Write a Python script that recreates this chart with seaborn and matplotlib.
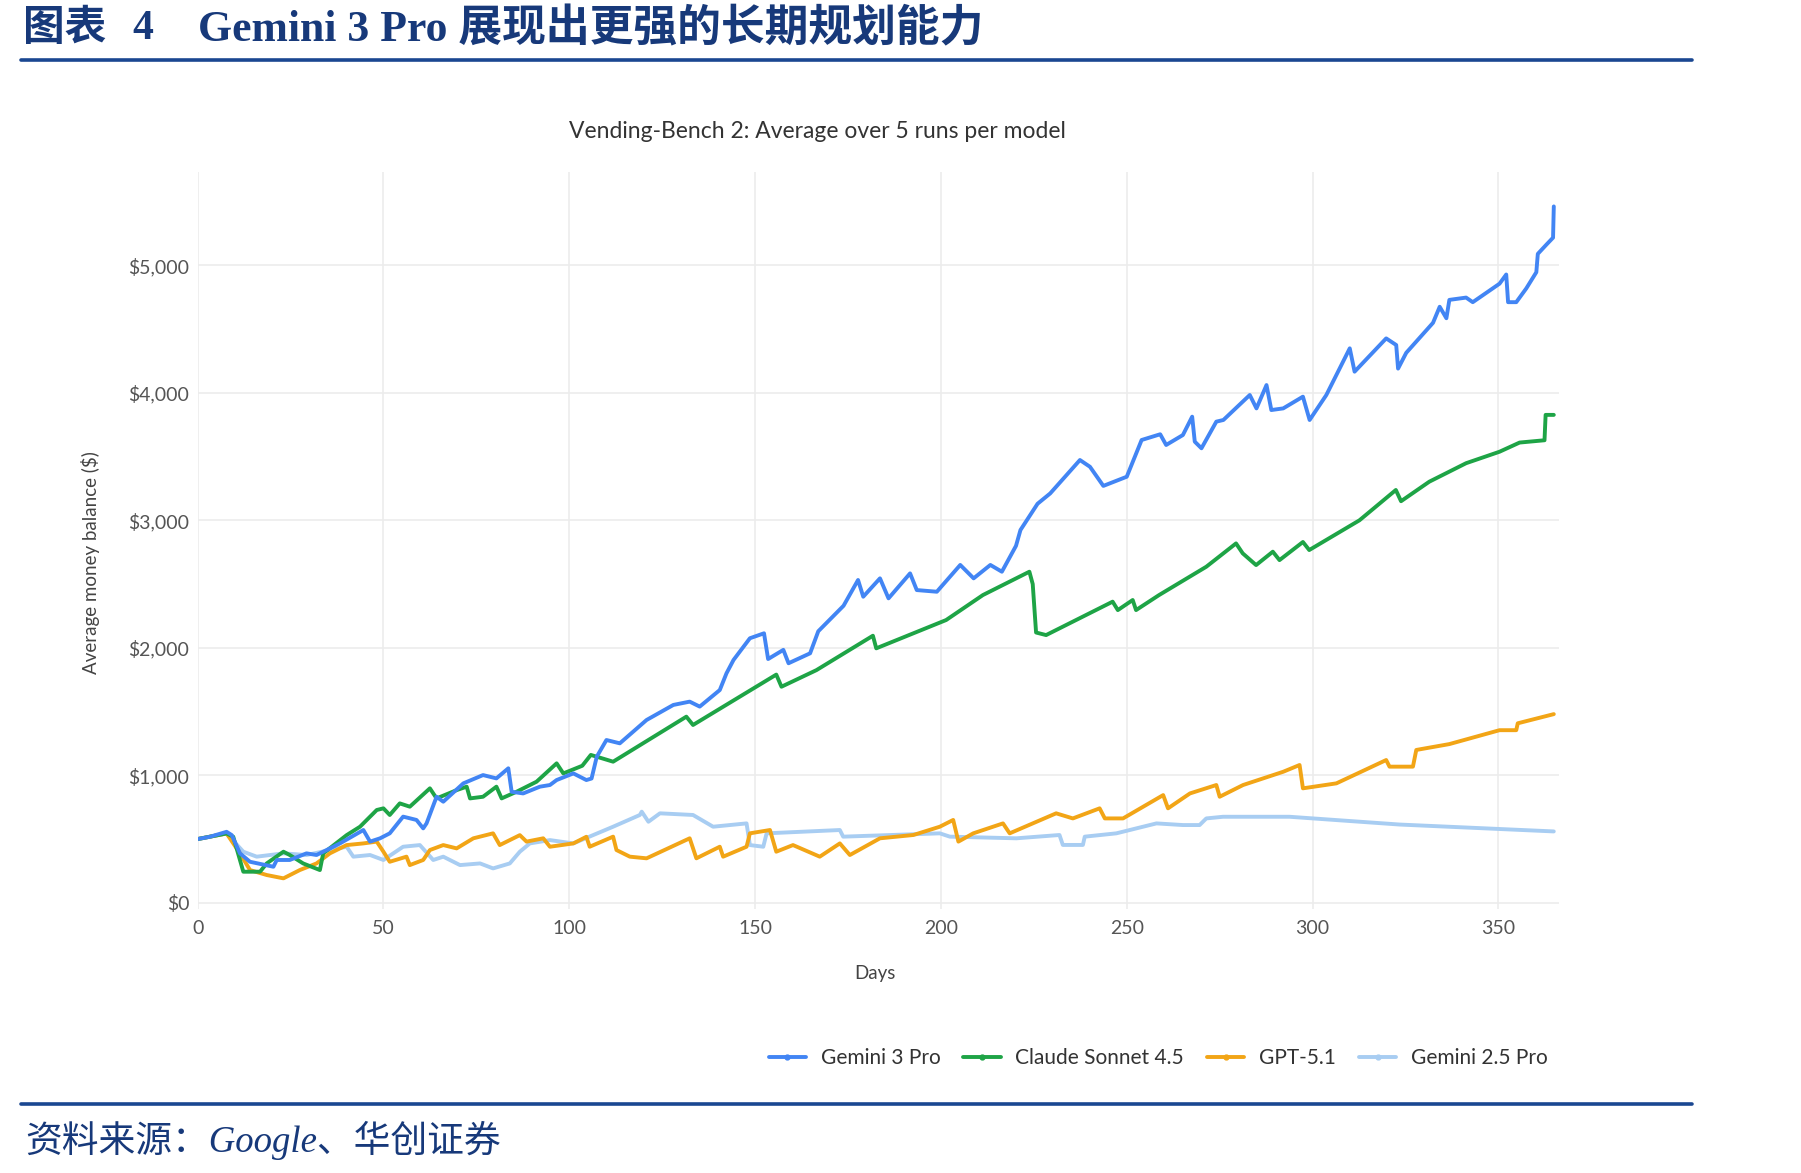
import matplotlib
matplotlib.use("Agg")
import matplotlib.pyplot as plt
from matplotlib.lines import Line2D
from matplotlib.ticker import FuncFormatter
import seaborn as sns
import pandas as pd

# ---------------- data ----------------
models = ["Gemini 3 Pro", "Claude Sonnet 4.5", "GPT-5.1", "Gemini 2.5 Pro"]
colors = ["#4285f4", "#1ea446", "#f2a516", "#a8cdf2"]

gem3_days = [0, 3.3, 7.8, 9.2, 11.4, 14.1, 20.4, 21.3, 24.8, 29.3,
             32, 38.3, 44.6, 46.4, 49.1, 51.7, 55.3, 58.9, 60.7, 61.6,
             64.3, 66.1, 71.5, 76.8, 80.4, 83.6, 84.5, 87.6, 92.1, 94.8,
             96.6, 101.1, 104.6, 106.0, 107.4, 110, 113.6, 120.8, 128, 132.4,
             135.1, 140.5, 142.3, 144.2, 148.6, 152.4, 153.5, 157.6, 159, 164.8,
             167, 173.8, 177.7, 179.1, 183.6, 185.9, 191.7, 193.5, 198.9, 205.2,
             208.8, 213.3, 216.4, 220.2, 221.4, 226, 229.4, 237.4, 240.1, 243.7,
             250, 254, 259, 260.6, 265.1, 267.6, 268.3, 270.1, 274.1, 276,
             283.1, 284.9, 287.6, 288.9, 292.1, 297.4, 299.2, 303.7, 310, 311.3,
             319.8, 322.5, 323, 325.2, 332.4, 334.2, 336, 336.8, 341.3, 343.1,
             350.3, 352.1, 352.6, 354.8, 357.5, 360.2, 360.6, 362.9, 364.7, 364.9]
gem3_vals = [500, 518, 557, 531, 388, 322, 283, 336, 336, 388,
             375, 466, 571, 480, 506, 545, 676, 650, 584, 623,
             832, 793, 937, 1002, 976, 1055, 871, 858, 911, 924,
             963, 1015, 963, 975, 1146, 1277, 1251, 1434, 1552, 1578,
             1539, 1669, 1800, 1905, 2075, 2114, 1912, 1984, 1879, 1957,
             2130, 2330, 2532, 2401, 2545, 2388, 2584, 2453, 2440, 2650,
             2545, 2650, 2597, 2800, 2924, 3130, 3211, 3473, 3420, 3270,
             3342, 3630, 3675, 3591, 3669, 3813, 3617, 3565, 3774, 3787,
             3983, 3878, 4061, 3865, 3878, 3970, 3787, 3983, 4349, 4166,
             4427, 4375, 4190, 4314, 4549, 4675, 4585, 4729, 4747, 4711,
             4856, 4928, 4711, 4711, 4819, 4946, 5090, 5162, 5217, 5462]

claude_days = [0, 7.8, 9.6, 12.3, 16.8, 18.6, 23.1, 24.8, 28.4, 32.9,
               33.8, 40.1, 43.7, 48.2, 50, 51.7, 54.4, 57.1, 62.5, 64.3,
               69.7, 72.4, 73.3, 76.8, 80.4, 81.8, 85.8, 91.2, 96.6, 98.4,
               103.5, 105.8, 111.8, 131.5, 133.3, 155.7, 157.1, 166.5, 181.7, 182.6,
               201.4, 211.3, 223.8, 224.7, 225.6, 228.3, 246.2, 247.6, 251.6, 252.5,
               258.7, 271.4, 279.4, 281.2, 284.8, 289.3, 291.1, 297.4, 299.1, 312.6,
               322.4, 323.8, 331.4, 341.3, 350.3, 355.7, 362.4, 362.7, 364.9]
claude_vals = [500, 544, 518, 244, 244, 309, 401, 375, 309, 257,
               388, 531, 597, 728, 741, 689, 780, 754, 898, 819,
               884, 911, 819, 832, 911, 819, 871, 950, 1094, 1015,
               1075, 1160, 1107, 1460, 1395, 1790, 1695, 1825, 2095, 1996,
               2218, 2414, 2597, 2500, 2120, 2100, 2362, 2296, 2375, 2296,
               2414, 2636, 2819, 2741, 2649, 2754, 2688, 2830, 2767, 3000,
               3238, 3150, 3303, 3448, 3538, 3610, 3628, 3827, 3827]

gpt_days = [0, 7.8, 11.4, 14.1, 18.6, 23.1, 27.5, 32, 35.6, 40.1,
            44.6, 48.2, 50, 51.7, 56.2, 57.1, 60.7, 62.5, 66.1, 69.7,
            74.2, 79.5, 81.3, 86.7, 88.5, 93, 94.8, 101.1, 104.6, 105.5,
            111.8, 112.7, 116.3, 120.8, 132.4, 134.2, 140.5, 141.4, 147.7, 148.6,
            154, 155.7, 160.2, 167.4, 172.8, 175.5, 183.6, 192.6, 199.7, 203.3,
            204.7, 208.7, 216.7, 218.5, 231, 235.5, 242.7, 244.1, 249, 259.8,
            261.1, 267, 274.1, 275, 281.3, 292.1, 296.5, 297.4, 306.4, 319.8,
            320.7, 327, 327.9, 336.8, 350.3, 354.8, 355.2, 364.9]
gpt_vals = [500, 544, 388, 257, 218, 192, 257, 309, 388, 453,
            466, 480, 401, 322, 362, 296, 336, 414, 453, 427,
            506, 545, 453, 531, 480, 506, 440, 466, 518, 440,
            519, 414, 362, 349, 506, 349, 440, 362, 440, 545,
            571, 401, 453, 362, 466, 375, 506, 532, 597, 650,
            480, 545, 623, 545, 702, 662, 741, 662, 662, 845,
            741, 858, 924, 832, 924, 1028, 1081, 898, 937, 1120,
            1068, 1068, 1199, 1245, 1354, 1354, 1408, 1480]

gem25_days = [0, 7.8, 12.3, 15.9, 23.1, 29.3, 35.6, 40.1, 41.9, 46.4,
              50, 55.3, 59.8, 63.4, 66.1, 70.6, 76, 79.5, 84, 86.7,
              89.4, 94.8, 101.1, 111.8, 119, 119.5, 121.3, 124.4, 133.3, 138.7,
              147.7, 148.6, 152.2, 153.1, 172.8, 173.7, 199.7, 202.4, 220.3, 231.9,
              232.8, 238.2, 238.7, 247.2, 258, 265.1, 269.6, 271.4, 275.9, 293.8,
              323.4, 364.9]
gem25_vals = [500, 544, 401, 362, 388, 375, 414, 440, 362, 375,
              336, 440, 453, 336, 362, 296, 309, 270, 309, 401,
              466, 492, 466, 597, 689, 715, 636, 702, 689, 597,
              623, 453, 440, 545, 571, 519, 545, 519, 506, 532,
              454, 454, 519, 545, 623, 610, 610, 662, 675, 675,
              614, 560]

x_ticks = [0, 50, 100, 150, 200, 250, 300, 350]
y_ticks = [0, 1000, 2000, 3000, 4000, 5000]

series = [(gem3_days, gem3_vals), (claude_days, claude_vals),
          (gpt_days, gpt_vals), (gem25_days, gem25_vals)]
frames = []
for name, (d, v) in zip(models, series):
    n = min(len(d), len(v))
    frames.append(pd.DataFrame({"day": d[:n], "value": v[:n], "model": name}))
df = pd.concat(frames, ignore_index=True)

# ---------------- figure ----------------
sns.set_theme(style="whitegrid")
plt.rcParams["font.family"] = ["Lato", "DejaVu Sans"]

W, H = 1801, 1173
fig = plt.figure(figsize=(W / 100, H / 100), dpi=100)
fig.patch.set_facecolor("white")

ax = fig.add_axes([197.6 / W, 1 - 909.2 / H, (1559 - 197.6) / W, (909.2 - 172) / H])
ax.set_facecolor("white")

# draw bottom-most first so Gemini 3 Pro sits on top
for name, col in reversed(list(zip(models, colors))):
    sub = df[df["model"] == name]
    sns.lineplot(data=sub, x="day", y="value", color=col, linewidth=2.8,
                 estimator=None, sort=False, ax=ax, legend=False)

ax.set_xlim(0, 366.3)
ax.set_ylim(-50, 5732)
ax.set_xticks(x_ticks)
ax.set_yticks(y_ticks)
ax.yaxis.set_major_formatter(FuncFormatter(lambda v, p: f"${v:,.0f}"))
ax.grid(True, color="#ececec", linewidth=1.2)
for s in ax.spines.values():
    s.set_visible(False)
ax.tick_params(axis="both", length=0, labelsize=14, colors="#555555")
ax.tick_params(axis="x", pad=8)
ax.tick_params(axis="y", pad=6)
ax.set_xlabel("")
ax.set_ylabel("")

# axis titles
fig.text(875 / W, 1 - 974 / H, "Days", ha="center", va="center",
         fontsize=13.5, color="#444444")
fig.text(90 / W, 1 - 563 / H, "Average money balance ($)", ha="center",
         va="center", rotation=90, fontsize=13.5, color="#444444")

# chart title
fig.text(817 / W, 1 - 132 / H, "Vending-Bench 2: Average over 5 runs per model",
         ha="center", va="center", fontsize=16.5, color="#333333")

# legend
handles = [Line2D([0], [0], color=c, linewidth=2.8, marker="o", markersize=3.5)
           for c in colors]
fig.legend(handles, models, loc="center right",
           bbox_to_anchor=(1558 / W, 1 - 1058 / H), ncol=4, frameon=False,
           fontsize=15, handlelength=1.8, handletextpad=0.7,
           columnspacing=1.1, borderpad=0, labelcolor="#333333")

# report heading and source
navy = "#17397a"
head_fam = ["Liberation Serif", "Noto Sans CJK SC"]
fig.text(23 / W, 1 - 29 / H, "图表", ha="left", va="center",
         fontsize=30, fontweight="bold", color=navy, family=head_fam)
fig.text(132 / W, 1 - 29 / H, "4", ha="left", va="center",
         fontsize=30, fontweight="bold", color=navy, family=head_fam)
fig.text(198 / W, 1 - 29 / H, "Gemini 3 Pro 展现出更强的长期规划能力", ha="left",
         va="center", fontsize=31.5, fontweight="bold", color=navy, family=head_fam)

rule_col = "#1a4791"
fig.add_artist(Line2D([21 / W, 1692 / W], [1 - 60 / H, 1 - 60 / H],
                      color=rule_col, linewidth=2.6, transform=fig.transFigure))
fig.add_artist(Line2D([21 / W, 1692 / W], [1 - 1104 / H, 1 - 1104 / H],
                      color=rule_col, linewidth=2.6, transform=fig.transFigure))

fig.text(25 / W, 1 - 1140 / H, "资料来源：Google、华创证券", ha="left", va="center",
         fontsize=26.5, style="italic", color=navy, family=head_fam)

fig.savefig("out.png", dpi=100, facecolor="white")
